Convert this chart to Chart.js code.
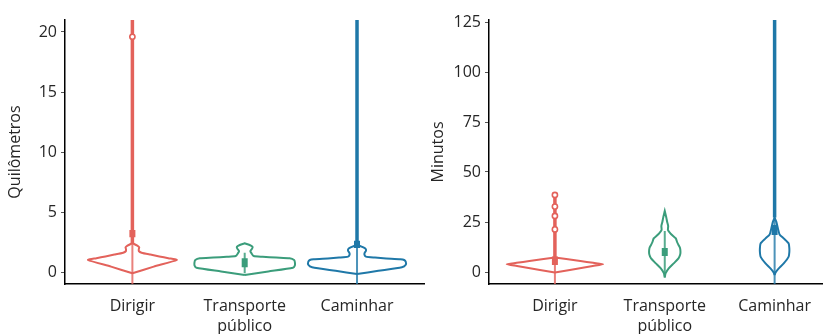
<!DOCTYPE html>
<html>
<head>
<meta charset="utf-8">
<script src="https://cdn.jsdelivr.net/npm/chart.js@4.4.1/dist/chart.umd.min.js"></script>
<style>
  html, body { margin: 0; padding: 0; background: #fff; }
  #wrap { position: relative; width: 828px; height: 334px; overflow: hidden; }
  canvas { position: absolute; top: 0; }
</style>
</head>
<body>
<div id="wrap">
  <canvas id="cKm" width="430" height="334" style="left:0"></canvas>
  <canvas id="cMin" width="408" height="334" style="left:420px"></canvas>
</div>
<script>
/* Violinos: distância e tempo por modo de transporte */
const CATEGORIAS = ['Dirigir', 'Transporte público', 'Caminhar'];
const CORES = ['#E3625B', '#3B9D7B', '#1F78A8'];
const CORES_FINAS = ['rgba(227,98,91,0.8)', 'rgba(59,157,123,0.85)', 'rgba(31,120,168,0.8)'];

const KM_TICKS = [0, 5, 10, 15, 20];
const MIN_TICKS = [0, 25, 50, 75, 100, 125];

// perfis: valor (y) e meia-largura do violino (em unidades de categoria)
const KM_DIRIGIR_Y = [-0.11, 0.45, 1.0, 1.15, 1.3, 1.45, 1.61, 1.75, 1.9, 2.05, 2.2, 2.4];
const KM_DIRIGIR_W = [0, 0.19, 0.395, 0.32, 0.24, 0.16, 0.082, 0.057, 0.057, 0.061, 0.044, 0];
const KM_TRANSP_Y = [-0.25, 0.05, 0.36, 0.55, 0.8, 1.0, 1.14, 1.2, 1.27, 1.33, 1.55, 1.75, 1.95, 2.1, 2.25, 2.39];
const KM_TRANSP_W = [0, 0.21, 0.43, 0.447, 0.447, 0.44, 0.40, 0.28, 0.16, 0.08, 0.061, 0.05, 0.066, 0.07, 0.044, 0];
const KM_CAMINHAR_Y = [-0.17, 0.1, 0.39, 0.6, 0.85, 1.0, 1.06, 1.13, 1.2, 1.28, 1.45, 1.6, 1.75, 1.9, 2.05, 2.17, 2.25];
const KM_CAMINHAR_W = [0, 0.19, 0.40, 0.434, 0.434, 0.42, 0.386, 0.26, 0.16, 0.079, 0.066, 0.068, 0.079, 0.079, 0.057, 0.026, 0];

const MIN_DIRIGIR_Y = [-0.3, 1, 2, 3, 3.9, 4.6, 5.5, 6.5, 7.3];
const MIN_DIRIGIR_W = [0, 0.136, 0.24, 0.345, 0.439, 0.348, 0.232, 0.103, 0];
const MIN_TRANSP_Y = [-2.8, -0.7, 1.8, 4.3, 6.8, 8.5, 10, 12, 13.5, 15, 16.8, 18, 19.3, 21, 23, 25, 27.5, 30.5];
const MIN_TRANSP_W = [0, 0.007, 0.036, 0.081, 0.125, 0.139, 0.143, 0.139, 0.125, 0.112, 0.101, 0.076, 0.051, 0.029, 0.031, 0.022, 0.013, 0];
const MIN_CAMINHAR_Y = [-1.5, -0.2, 1.8, 4.3, 7.7, 10, 11.8, 14.3, 16.8, 18.8, 21.8, 25.2, 27.2];
const MIN_CAMINHAR_W = [0, 0.009, 0.038, 0.083, 0.128, 0.134, 0.134, 0.128, 0.083, 0.045, 0.030, 0.015, 0];

// bigodes, caixas e pontos atípicos
const KM_BIG_MIN = [-3, -0.1, -3];
const KM_BIG_MAX = [25, 1.6, 25];
const KM_Q1 = [2.9, 0.4, 2.0];
const KM_Q3 = [3.5, 1.15, 2.6];
const KM_ATIPICOS = [[19.6], [], []];

const MIN_BIG_MIN = [-10, -2.3, -10];
const MIN_BIG_MAX = [39.7, 20.5, 140];
const MIN_Q1 = [3.5, 8, 18.5];
const MIN_Q3 = [7.8, 12, 23.5];
const MIN_ATIPICOS = [[21.3, 28, 32.7, 38.5], [], []];

const FONTE = 'Open Sans';
const COR_TEXTO = '#262626';
const ROTULOS = CATEGORIAS.map(c => c.includes(' ') ? c.split(' ') : c);

function violino(c, ys, ws) {
  const dir = ys.map((y, i) => ({ x: c + ws[i], y }));
  const esq = ys.map((y, i) => ({ x: c - ws[i], y })).reverse();
  return dir.concat(esq);
}

// order menor = desenhado por cima
function montarDatasets(perfis, bigMin, bigMax, q1, q3, atipicos) {
  const ds = [];
  perfis.forEach((p, i) => {
    const c = i + 1;
    const cor = CORES[i];
    const topo = p.y[p.y.length - 1];
    ds.push({ data: [{ x: c, y: bigMin[i] }, { x: c, y: Math.min(bigMax[i], topo) }], showLine: true,
      borderColor: CORES_FINAS[i], borderWidth: 2, pointRadius: 0, order: 4 });
    ds.push({ data: violino(c, p.y, p.w), showLine: true, borderColor: cor, borderWidth: 2,
      pointRadius: 0, tension: 0.2, fill: false, order: 3 });
    if (bigMax[i] > topo) {
      ds.push({ data: [{ x: c, y: topo }, { x: c, y: bigMax[i] }], showLine: true,
        borderColor: cor, borderWidth: 3.5, pointRadius: 0, order: 2 });
    }
    ds.push({ data: [{ x: c, y: q1[i] }, { x: c, y: q3[i] }], showLine: true, borderColor: cor,
      borderWidth: 6, borderCapStyle: 'butt', pointRadius: 0, order: 1 });
    if (atipicos[i].length) {
      ds.push({ data: atipicos[i].map(v => ({ x: c, y: v })), showLine: false, pointRadius: 2.6,
        pointBackgroundColor: '#fff', pointBorderColor: cor, pointBorderWidth: 1.6, order: 0 });
    }
  });
  return ds;
}

function opcoes(xMax, yMin, yMax, yTicks, titulo, yLarg, tituloPad) {
  return {
    responsive: false, animation: false,
    layout: { padding: { top: 20, left: 0, right: 0, bottom: 0 } },
    plugins: { legend: { display: false }, tooltip: { enabled: false } },
    scales: {
      x: {
        type: 'linear', min: 0.4, max: xMax,
        afterBuildTicks: s => { s.ticks = [1, 2, 3].map(v => ({ value: v })); },
        afterFit: s => { s.height = 50; },
        ticks: {
          callback: (v, i) => ROTULOS[i],
          font: { family: FONTE, size: 16, lineHeight: 1.25 }, color: COR_TEXTO,
          padding: 12, maxRotation: 0, autoSkip: false,
        },
        grid: { drawOnChartArea: false, drawTicks: false },
        border: { color: '#000', width: 1.5 },
      },
      y: {
        min: yMin, max: yMax,
        afterBuildTicks: s => { s.ticks = yTicks.map(v => ({ value: v })); },
        afterFit: s => { s.width = yLarg; },
        ticks: { font: { family: FONTE, size: 16 }, color: COR_TEXTO, padding: 4 },
        grid: { drawOnChartArea: false, drawTicks: true, tickLength: 4, color: '#555' },
        border: { color: '#000', width: 1.5 },
        title: { display: true, text: titulo, font: { family: FONTE, size: 16 }, color: COR_TEXTO,
          padding: { top: tituloPad, bottom: 0 } },
      },
    },
  };
}

new Chart(document.getElementById('cKm'), {
  type: 'scatter',
  data: {
    datasets: montarDatasets([
      { y: KM_DIRIGIR_Y, w: KM_DIRIGIR_W },
      { y: KM_TRANSP_Y, w: KM_TRANSP_W },
      { y: KM_CAMINHAR_Y, w: KM_CAMINHAR_W },
    ], KM_BIG_MIN, KM_BIG_MAX, KM_Q1, KM_Q3, KM_ATIPICOS),
  },
  options: opcoes(3.6, -1, 21, KM_TICKS, 'Quilômetros', 65, 6),
});

new Chart(document.getElementById('cMin'), {
  type: 'scatter',
  data: {
    datasets: montarDatasets([
      { y: MIN_DIRIGIR_Y, w: MIN_DIRIGIR_W },
      { y: MIN_TRANSP_Y, w: MIN_TRANSP_W },
      { y: MIN_CAMINHAR_Y, w: MIN_CAMINHAR_W },
    ], MIN_BIG_MIN, MIN_BIG_MAX, MIN_Q1, MIN_Q3, MIN_ATIPICOS),
  },
  options: opcoes(3.435, -6, 126, MIN_TICKS, 'Minutos', 69, 9),
});
</script>
</body>
</html>
